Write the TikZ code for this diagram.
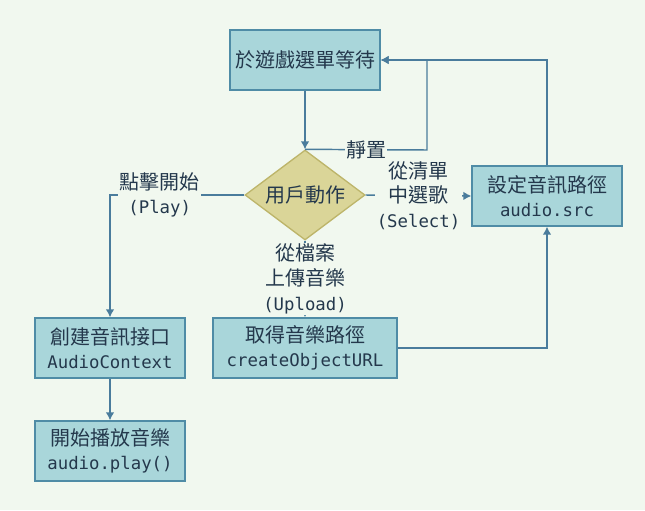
\documentclass[tikz,border=0pt]{standalone}
\usepackage{fontspec}
\setmainfont{Noto Sans CJK TC}
\newfontfamily\mono{DejaVu Sans Mono}
\usetikzlibrary{shapes.geometric,arrows.meta}
\definecolor{bgcol}{HTML}{F1F8EF}
\definecolor{boxfill}{HTML}{A9D6DA}
\definecolor{boxline}{HTML}{4F8CA6}
\definecolor{diafill}{HTML}{DAD598}
\definecolor{dialine}{HTML}{BDB56A}
\definecolor{edgecol}{HTML}{4A7C9C}
\definecolor{txtcol}{HTML}{24384C}
\tikzset{box/.style={draw=boxline, fill=boxfill, line width=1pt, minimum width=112.5pt, minimum height=45pt, inner sep=0pt, align=center, text=txtcol, font=\fontsize{15}{18}\selectfont},
dia/.style={diamond, draw=dialine, fill=diafill, line width=1pt, minimum width=90pt, minimum height=67.5pt, inner sep=0pt},
edge/.style={draw=edgecol, line width=1.1pt, -{Latex[length=6pt,width=6.5pt]}},
lab/.style={fill=bgcol, inner sep=1pt, align=center, text=txtcol, font=\fontsize{15}{18.5}\selectfont}}

\begin{document}
\begin{tikzpicture}[x=0.75pt,y=-0.75pt]
\fill[bgcol] (0,0) rectangle (645,510);
\useasboundingbox (0,0) rectangle (645,510);

\node[box] (wait) at (305,60) {於遊戲選單等待};
\node[dia] (act) at (305,195) {};
\node[text=txtcol, font=\fontsize{15}{18}\selectfont] (acttxt) at (act) {用戶動作};
\node[box] (src) at (547,196) {設定音訊路徑\\{\mono\fontsize{13}{18}\selectfont audio.src}};
\node[box] (ctx) at (110,348) {創建音訊接口\\{\mono\fontsize{13}{18}\selectfont AudioContext}};
\node[box] (play) at (110,451) {開始播放音樂\\{\mono\fontsize{13}{18}\selectfont audio.play()}};
\node[box, minimum width=138pt] (url) at (305,348) {取得音樂路徑\\{\mono\fontsize{13}{18}\selectfont createObjectURL}};
\coordinate (turn) at (427,150);

\draw[edge] (wait) -- (act);
\draw[edge] (act.north) -- node[lab, pos=0.5]{靜置} (turn) |- (wait.east);
\draw[edge] (src.north) |- (wait.east);
\draw[edge] (act.east) -- node[lab]{從清單\\中選歌\\{\mono\fontsize{13}{18.5}\selectfont (Select)}} (src.west);
\draw[edge] (act.west) -| node[lab, pos=0.315]{點擊開始\\{\mono\fontsize{13}{18.5}\selectfont (Play)}} (ctx.north);
\draw[edge] (ctx) -- (play);
\draw[edge] (act.south) -- node[lab]{從檔案\\上傳音樂\\{\mono\fontsize{13}{18.5}\selectfont (Upload)}} (url.north);
\draw[edge] (url.east) -| (src.south);
\end{tikzpicture}
\end{document}
